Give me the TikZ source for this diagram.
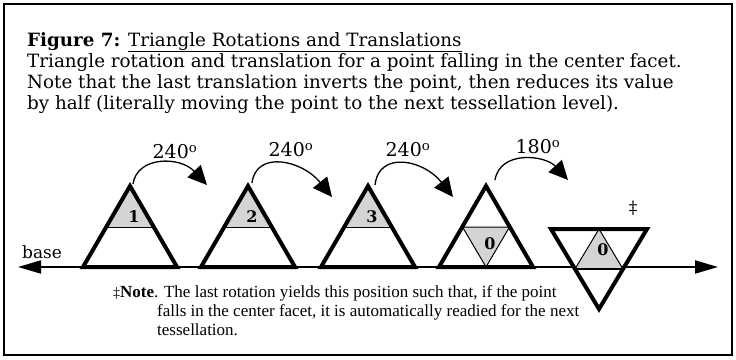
\documentclass[tikz,border=0pt]{standalone}
\usepackage{fontspec}
\setmainfont{DejaVu Serif}
\newfontfamily\notefont{Liberation Serif}
\usetikzlibrary{arrows.meta}
\begin{document}
\begin{tikzpicture}[x=1pt,y=-1pt,
  tri/.style={line width=4pt, line join=miter},
  midl/.style={line width=1pt},
  shade/.style={fill=black!17},
  rot/.style={line width=1.3pt, -{Triangle[length=19pt,width=18pt]}},
  lbl/.style={font=\fontsize{19}{19}\selectfont, inner sep=0pt},
  num/.style={font=\bfseries\fontsize{16}{16}\selectfont, inner sep=0pt},
  body/.style={anchor=base west, inner sep=0pt, font=\fontsize{18.3}{21}\selectfont},
  note/.style={anchor=base west, inner sep=0pt, font=\notefont\fontsize{17}{17}\selectfont}
]
\useasboundingbox (0,0) rectangle (736,359);
\draw[line width=2pt] (4,4) rectangle (732,355);

% text block
\node[body] (title) at (27,46) {\textbf{Figure 7:} \underline{Triangle Rotations and Translations}};
\node[body] (l2) at (27,67) {Triangle rotation and translation for a point falling in the center facet.};
\node[body] (l3) at (27,88) {Note that the last translation inverts the point, then reduces its value};
\node[body] (l4) at (27,109) {by half (literally moving the point to the next tessellation level).};

% base line
\coordinate (bl) at (18,267);
\coordinate (br) at (718,267);
\draw[line width=2pt, {Triangle[length=23pt,width=13pt]}-{Triangle[length=23pt,width=13pt]}] (bl) -- (br);
\node[body, font=\fontsize{17}{17}\selectfont] (baselbl) at (22,258) {base};

% upright triangles 1-3
\foreach \n/\x in {1/130,2/248,3/368}{
  \coordinate (t\n a) at (\x,186);
  \coordinate (t\n l) at (\x-47,267);
  \coordinate (t\n r) at (\x+47,267);
  \coordinate (t\n ml) at (\x-23.5,227);
  \coordinate (t\n mr) at (\x+23.5,227);
  \fill[shade] (t\n a) -- (t\n ml) -- (t\n mr) -- cycle;
  \draw[midl] (t\n ml) -- (t\n mr);
  \draw[tri] (t\n l) -- (t\n a) -- (t\n r) -- cycle;
  \node[num] (n\n) at (\x+4,217) {\n};
}

% triangle 4
\coordinate (t4a) at (486,186);
\coordinate (t4l) at (439,267);
\coordinate (t4r) at (533,267);
\coordinate (t4ml) at (462.5,227);
\coordinate (t4mr) at (509.5,227);
\coordinate (t4mb) at (486,267);
\fill[shade] (t4ml) -- (t4mr) -- (t4mb) -- cycle;
\draw[midl] (t4ml) -- (t4mr) -- (t4mb) -- cycle;
\draw[tri] (t4l) -- (t4a) -- (t4r) -- cycle;
\node[num] (n4) at (490,244) {0};

% triangle 5 (inverted)
\coordinate (t5l) at (551,229);
\coordinate (t5r) at (647,229);
\coordinate (t5b) at (599,309);
\coordinate (t5ml) at (575,269);
\coordinate (t5mr) at (623,269);
\coordinate (t5mt) at (599,229);
\fill[white] (t5l) -- (t5r) -- (t5b) -- cycle;
\fill[shade] (t5ml) -- (t5mt) -- (t5mr) -- cycle;
\draw[midl] (t5ml) -- (t5mt) -- (t5mr) -- cycle;
\draw[line width=2pt] (t5ml) -- (t5mr);
\draw[tri] (t5l) -- (t5r) -- (t5b) -- cycle;
\node[num] (n5) at (603,250) {0};
\node[font=\fontsize{17}{17}\selectfont, inner sep=0pt] (dag) at (633,208) {‡};

% rotation arrows
\coordinate (a1s) at (133,184); \coordinate (a1e) at (207,185);
\coordinate (a2s) at (252,183); \coordinate (a2e) at (332,197);
\coordinate (a3s) at (375,185); \coordinate (a3e) at (453,197);
\coordinate (a4s) at (495,180); \coordinate (a4e) at (568,180);
\draw[rot] (a1s) .. controls (137,156) and (180,156) .. (a1e);
\draw[rot] (a2s) .. controls (256,150) and (302,160) .. (a2e);
\draw[rot] (a3s) .. controls (379,150) and (424,160) .. (a3e);
\draw[rot] (a4s) .. controls (500,150) and (545,155) .. (a4e);
\node[lbl] (r1) at (175,152) {240\textsuperscript{o}};
\node[lbl] (r2) at (291,150) {240\textsuperscript{o}};
\node[lbl] (r3) at (408,150) {240\textsuperscript{o}};
\node[lbl] (r4) at (538,147) {180\textsuperscript{o}};

% note
\node[note] (nt1) at (113,297) {{\fontsize{14}{14}\selectfont ‡}\textbf{Note}. The last rotation yields this position such that, if the point};
\node[note] (nt2) at (157,316) {falls in the center facet, it is automatically readied for the next};
\node[note] (nt3) at (157,335) {tessellation.};
\end{tikzpicture}
\end{document}
